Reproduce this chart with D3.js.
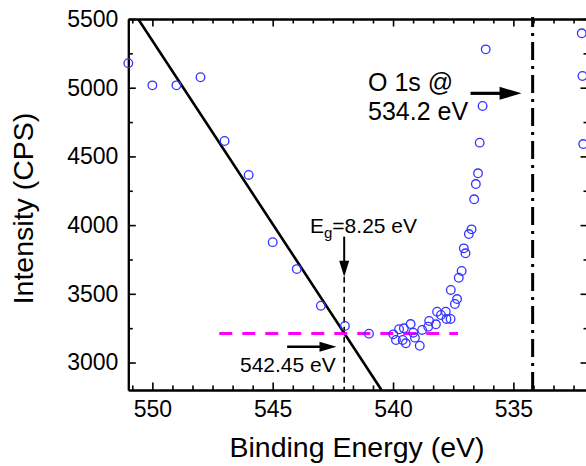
<!DOCTYPE html>
<html><head><meta charset="utf-8">
<script src="https://cdn.jsdelivr.net/npm/d3@7/dist/d3.min.js"></script>
<style>body{margin:0;background:#fff}svg{display:block}</style>
</head><body>
<svg id="chart" width="586" height="466"></svg>
<script>
// ---- data ----
const energy = [551.0, 550.0, 549.0, 548.0, 547.0, 546.0, 545.0, 544.0, 543.0, 542.0, 541.0,
  539.99, 539.88, 539.75, 539.60, 539.55, 539.47, 539.27, 539.16, 539.09, 538.89, 538.79,
  538.54, 538.50, 538.22, 538.17, 538.01, 537.81, 537.78, 537.61, 537.60, 537.43, 537.34,
  537.27, 537.15, 537.06, 536.99, 536.85, 536.74, 536.63, 536.56, 536.47, 536.40, 536.28,
  536.15, 532.16, 532.13, 532.10];
const intensity = [5178, 5017, 5017, 5076, 4612, 4365, 3876, 3680, 3413, 3266, 3210,
  3205, 3164, 3242, 3164, 3249, 3140, 3280, 3217, 3181, 3122, 3237,
  3261, 3302, 3278, 3370, 3346, 3370, 3317, 3317, 3528, 3426, 3462,
  3617, 3666, 3831, 3795, 3935, 3969, 4188, 4299, 4377, 4600, 4867,
  5279, 5396, 5085, 4590];
const xMajorTicks = [550, 545, 540, 535];
const yMajorTicks = [3000, 3500, 4000, 4500, 5000, 5500];
const yMinorTicks = [3250, 3750, 4250, 4750, 5250];
const xTitle = "Binding Energy (eV)";
const yTitle = "Intensity (CPS)";
const fitLineE = [550.59, 540.48];
const fitLineI = [5500, 2800];
const baselineE = [547.22, 537.30];
const baselineI = [3212, 3212];
const onsetE = 542.03;
const onsetI = [3624, 2800];
const peakE = 534.2;
const peakI = [2800, 5500];
const gapArrowI = [3916, 3624];
const onsetArrowE = [544.40, 542.35];
const onsetArrowI = 3115;
const peakArrowE = [536.78, 534.66];
const peakArrowI = 4959;
const gapText = ["E", "g", "=8.25 eV"];
const onsetText = "542.45 eV";
const peakText = ["O 1s @", "534.2 eV"];

// ---- setup ----
const font = "'Liberation Sans', Arial, Helvetica, sans-serif";
const svg = d3.select("#chart");
const L = 128.3, R = 588, T = 19, B = 390;
const x = d3.scaleLinear().domain([551, 531.9]).range([L, R]);
const y = d3.scaleLinear().domain([2800, 5500]).range([B, T]);

const xMinor = [];
for (let k = -1; k <= 23; k++) {
  const v = 550 - k * 5 / 6;
  if (v <= 551 && v >= 531.9 && k % 6 !== 0) xMinor.push(v);
}

function styleAxis(g, labels) {
  g.attr("font-family", font).attr("font-size", 23);
  g.select(".domain").attr("stroke", "#000").attr("stroke-width", 2);
  g.selectAll(".tick line").attr("stroke", "#000").attr("stroke-width", 1.6);
  g.selectAll(".tick text").attr("fill", "#000");
  if (!labels) g.selectAll(".tick text").remove();
}

// minor ticks
svg.append("g").attr("transform", `translate(0,${B})`)
  .call(d3.axisBottom(x).tickValues(xMinor).tickSize(-4.5).tickSizeOuter(0))
  .call(g => styleAxis(g, false));
svg.append("g").attr("transform", `translate(0,${T})`)
  .call(d3.axisTop(x).tickValues(xMinor).tickSize(-4.5).tickSizeOuter(0))
  .call(g => styleAxis(g, false));
svg.append("g").attr("transform", `translate(${L},0)`)
  .call(d3.axisLeft(y).tickValues(yMinorTicks).tickSize(-4.5).tickSizeOuter(0))
  .call(g => styleAxis(g, false));
svg.append("g").attr("transform", `translate(${R},0)`)
  .call(d3.axisRight(y).tickValues(yMinorTicks).tickSize(-4.5).tickSizeOuter(0))
  .call(g => styleAxis(g, false));

// major ticks
svg.append("g").attr("transform", `translate(0,${B})`)
  .call(d3.axisBottom(x).tickValues(xMajorTicks).tickSize(-7.5).tickSizeOuter(0).tickPadding(10.5).tickFormat(d3.format("d")))
  .call(g => styleAxis(g, true));
svg.append("g").attr("transform", `translate(0,${T})`)
  .call(d3.axisTop(x).tickValues(xMajorTicks).tickSize(-7.5).tickSizeOuter(0))
  .call(g => styleAxis(g, false));
svg.append("g").attr("transform", `translate(${L},0)`)
  .call(d3.axisLeft(y).tickValues(yMajorTicks).tickSize(-7.5).tickSizeOuter(0).tickPadding(10).tickFormat(d3.format("d")))
  .call(g => styleAxis(g, true));
svg.append("g").attr("transform", `translate(${R},0)`)
  .call(d3.axisRight(y).tickValues(yMajorTicks).tickSize(-7.5).tickSizeOuter(0))
  .call(g => styleAxis(g, false));

// clip
svg.append("clipPath").attr("id", "plot").append("rect")
  .attr("x", L).attr("y", T).attr("width", R - L).attr("height", B - T);
const plot = svg.append("g").attr("clip-path", "url(#plot)");

// fit line
plot.append("line")
  .attr("x1", x(fitLineE[0])).attr("y1", y(fitLineI[0]))
  .attr("x2", x(fitLineE[1])).attr("y2", y(fitLineI[1]))
  .attr("stroke", "#000").attr("stroke-width", 2.6);

// baseline (magenta dashed)
plot.append("line")
  .attr("x1", x(baselineE[0])).attr("y1", y(baselineI[0]))
  .attr("x2", x(baselineE[1])).attr("y2", y(baselineI[1]))
  .attr("stroke", "#ff00ff").attr("stroke-width", 3).attr("stroke-dasharray", "13,10");

// onset vertical dashed
plot.append("line")
  .attr("x1", x(onsetE)).attr("y1", y(onsetI[0]))
  .attr("x2", x(onsetE)).attr("y2", y(onsetI[1]))
  .attr("stroke", "#000").attr("stroke-width", 1.6).attr("stroke-dasharray", "6,4");

// O1s dash-dot line
svg.append("line")
  .attr("x1", x(peakE)).attr("y1", y(peakI[0]))
  .attr("x2", x(peakE)).attr("y2", y(peakI[1]) - 2)
  .attr("stroke", "#000").attr("stroke-width", 3).attr("stroke-dasharray", "18,6,3,6");

// scatter
svg.append("g").selectAll("circle")
  .data(energy.map((e, i) => [e, intensity[i]]))
  .join("circle")
  .attr("cx", d => x(d[0])).attr("cy", d => y(d[1])).attr("r", 4.3)
  .attr("fill", "none").attr("stroke", "#3333ff").attr("stroke-width", 1.3);

// arrows
function arrow(x1, y1, x2, y2, headLen, headHalf, width) {
  const ang = Math.atan2(y2 - y1, x2 - x1);
  const bx = x2 - headLen * Math.cos(ang), by = y2 - headLen * Math.sin(ang);
  svg.append("line").attr("x1", x1).attr("y1", y1).attr("x2", bx + Math.cos(ang)).attr("y2", by + Math.sin(ang))
    .attr("stroke", "#000").attr("stroke-width", width);
  const px = -Math.sin(ang), py = Math.cos(ang);
  svg.append("path")
    .attr("d", `M${x2},${y2}L${bx + px * headHalf},${by + py * headHalf}L${bx - px * headHalf},${by - py * headHalf}Z`)
    .attr("fill", "#000");
}
arrow(x(onsetE), y(gapArrowI[0]), x(onsetE), y(gapArrowI[1]), 16, 5, 2);
arrow(x(onsetArrowE[0]), y(onsetArrowI), x(onsetArrowE[1]), y(onsetArrowI), 17, 5, 2.6);
arrow(x(peakArrowE[0]), y(peakArrowI), x(peakArrowE[1]), y(peakArrowI), 22, 6.5, 3.2);

// annotation texts
const gt = svg.append("text").attr("x", 310).attr("y", 233.3)
  .attr("font-family", font).attr("font-size", 21).attr("fill", "#000");
gt.append("tspan").text(gapText[0]);
gt.append("tspan").attr("font-size", 15).attr("dy", 5).text(gapText[1]);
gt.append("tspan").attr("dy", -5).text(gapText[2]);

svg.append("text").attr("x", 240).attr("y", 371.7)
  .attr("font-family", font).attr("font-size", 21).attr("fill", "#000").text(onsetText);

svg.append("text").attr("x", 368).attr("y", 90.7)
  .attr("font-family", font).attr("font-size", 25).attr("fill", "#000").text(peakText[0]);
svg.append("text").attr("x", 368).attr("y", 120)
  .attr("font-family", font).attr("font-size", 25).attr("fill", "#000").text(peakText[1]);

// axis titles
svg.append("text").attr("x", 357).attr("y", 457).attr("text-anchor", "middle")
  .attr("font-family", font).attr("font-size", 28.5).attr("fill", "#000").text(xTitle);
svg.append("text").attr("transform", "translate(33,208.5) rotate(-90)").attr("text-anchor", "middle")
  .attr("font-family", font).attr("font-size", 28.5).attr("fill", "#000").text(yTitle);
</script>
</body></html>
